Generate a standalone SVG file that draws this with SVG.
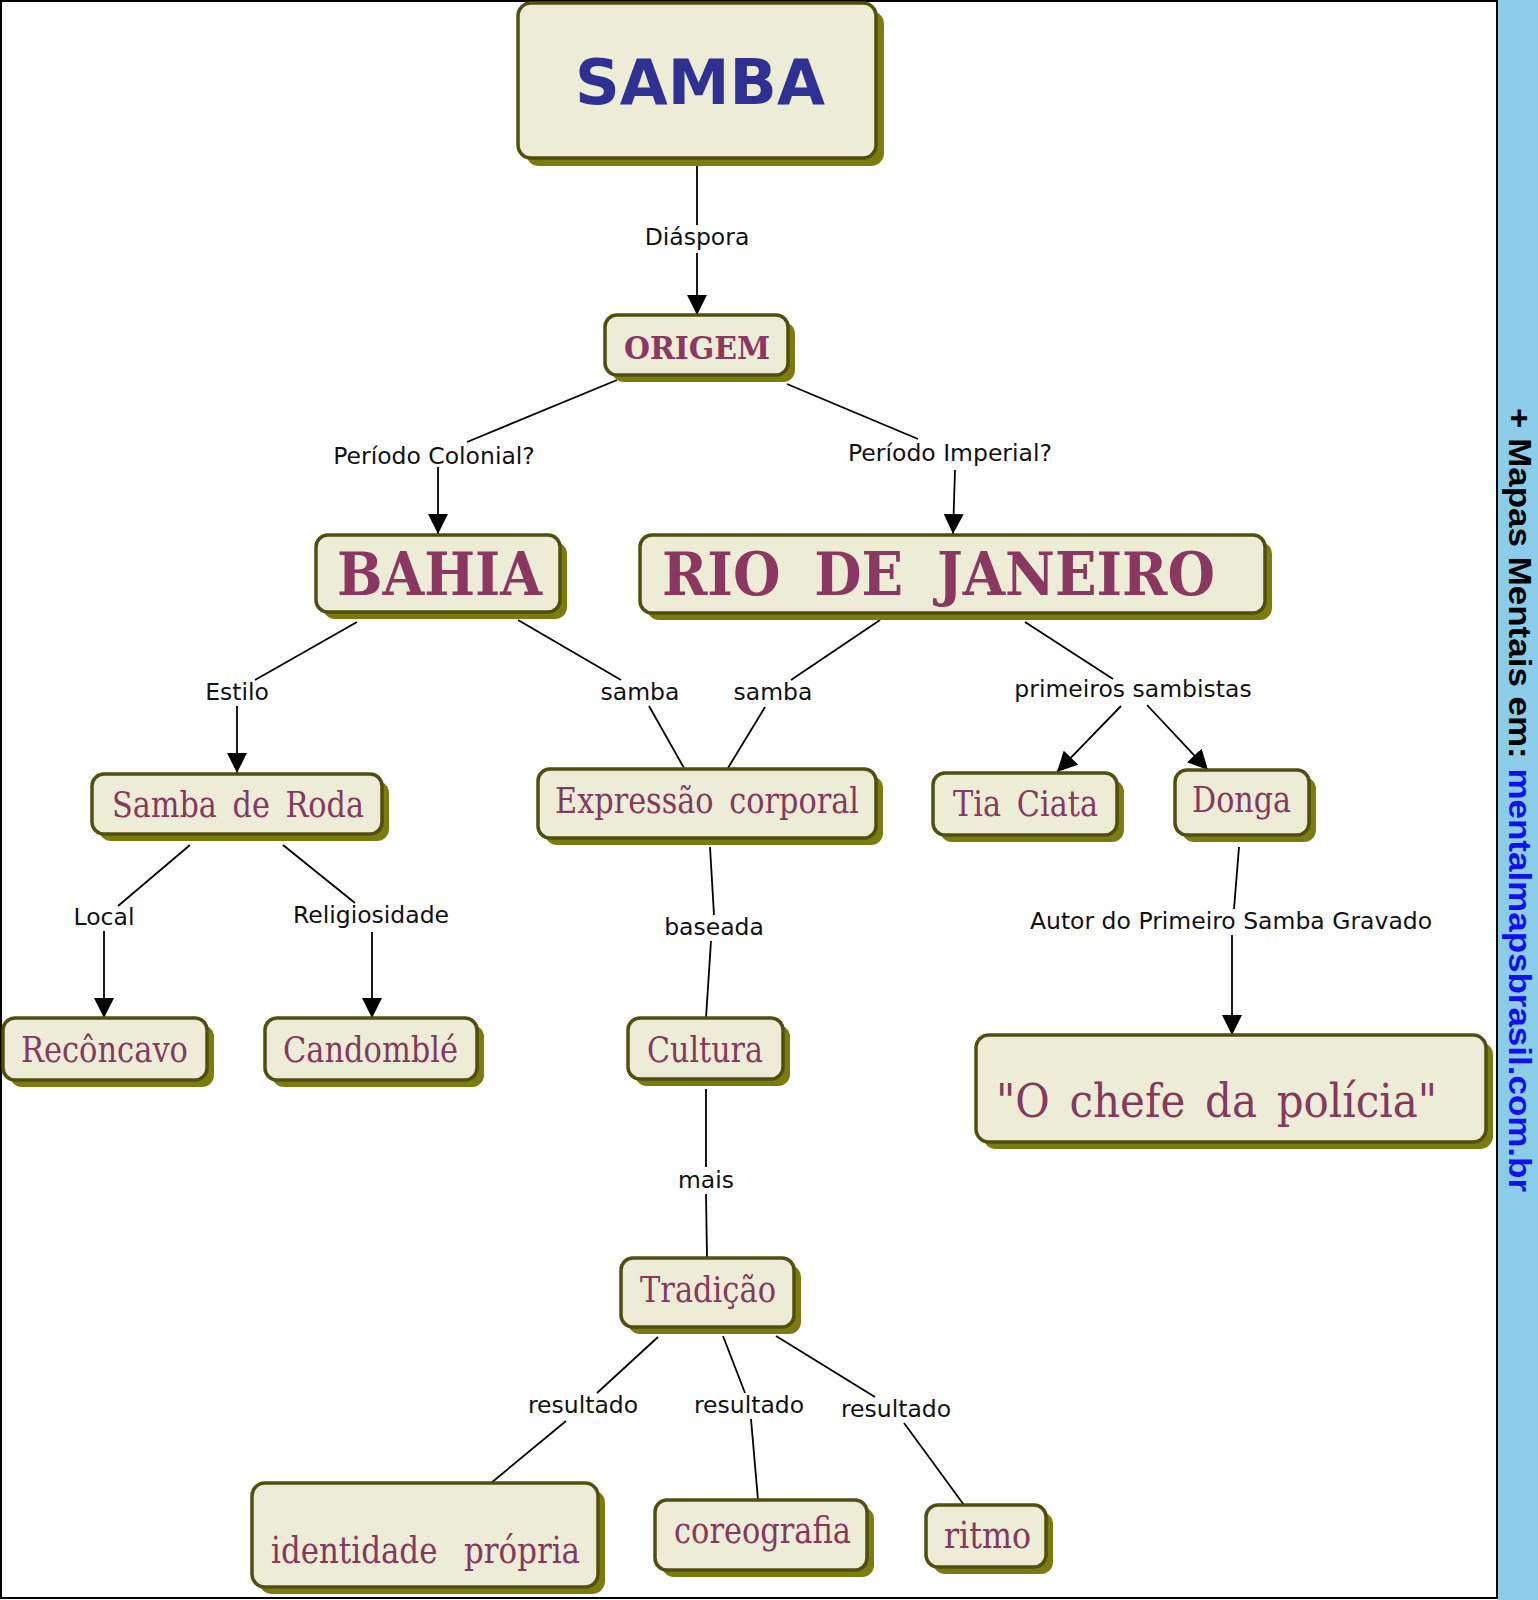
<svg xmlns="http://www.w3.org/2000/svg" width="1538" height="1600" viewBox="0 0 1538 1600">
<style>
.sh{fill:#7b7b0e;}
.bx{fill:#edecd6;stroke:#4f4f12;stroke-width:3.5;}
.t{font-family:"DejaVu Serif","Liberation Serif",serif;fill:#84395f;text-anchor:start;}
.tb{font-family:"DejaVu Serif","Liberation Serif",serif;fill:#8a3862;font-weight:bold;text-anchor:start;}
.lb{font-family:"DejaVu Sans","Liberation Sans",sans-serif;font-size:23.5px;fill:#111;text-anchor:middle;}
.ln{stroke:#000;stroke-width:1.8;fill:none;}
.ar{stroke:#000;stroke-width:1.8;fill:none;marker-end:url(#ah);}
</style>
<defs>
<marker id="ah" markerUnits="userSpaceOnUse" markerWidth="20" markerHeight="20" refX="20" refY="10" orient="auto">
<path d="M0,0 L20,10 L0,20 Z" fill="#000"/>
</marker>
</defs>
<rect x="0" y="0" width="1538" height="1600" fill="#fff"/>
<rect x="1" y="1" width="1496" height="1597" fill="#fff" stroke="#000" stroke-width="2"/>
<rect x="1498" y="0" width="40" height="1600" fill="#8bcde9"/>
<text transform="translate(1509,408) rotate(90)" font-family="'Liberation Sans',Arial,sans-serif" font-weight="bold" font-size="32" textLength="784" lengthAdjust="spacingAndGlyphs"><tspan fill="#000">+ Mapas Mentais em: </tspan><tspan fill="#1010f0">mentalmapsbrasil.com.br</tspan></text>

<g id="connectors">
<line class="ln" x1="697" y1="160" x2="697" y2="225"/>
<line class="ar" x1="697" y1="253" x2="697" y2="315"/>
<text class="lb" x="697" y="245">Diáspora</text>

<line class="ln" x1="617" y1="380" x2="467" y2="442"/>
<line class="ar" x1="438" y1="467" x2="438" y2="534"/>
<text class="lb" x="434" y="464">Período Colonial?</text>

<line class="ln" x1="787" y1="384" x2="918" y2="439"/>
<line class="ar" x1="955" y1="470" x2="953" y2="534"/>
<text class="lb" x="950" y="461">Período Imperial?</text>

<line class="ln" x1="357" y1="622" x2="255" y2="680"/>
<line class="ar" x1="237" y1="706" x2="237" y2="773"/>
<text class="lb" x="237" y="700">Estilo</text>

<line class="ln" x1="518" y1="620" x2="621" y2="680"/>
<line class="ln" x1="649" y1="706" x2="684" y2="768"/>
<text class="lb" x="640" y="700">samba</text>

<line class="ln" x1="880" y1="620" x2="791" y2="680"/>
<line class="ln" x1="765" y1="707" x2="728" y2="768"/>
<text class="lb" x="773" y="700">samba</text>

<line class="ln" x1="1025" y1="622" x2="1113" y2="679"/>
<line class="ar" x1="1121" y1="706" x2="1057" y2="772"/>
<line class="ar" x1="1147" y1="705" x2="1208" y2="770"/>
<text class="lb" x="1133" y="697">primeiros sambistas</text>

<line class="ln" x1="190" y1="845" x2="118" y2="906"/>
<line class="ar" x1="104" y1="931" x2="104" y2="1018"/>
<text class="lb" x="104" y="925">Local</text>

<line class="ln" x1="283" y1="845" x2="355" y2="903"/>
<line class="ar" x1="372" y1="932" x2="372" y2="1018"/>
<text class="lb" x="371" y="923">Religiosidade</text>

<line class="ln" x1="710" y1="847" x2="714" y2="915"/>
<line class="ln" x1="711" y1="941" x2="706" y2="1018"/>
<text class="lb" x="714" y="935">baseada</text>

<line class="ln" x1="706" y1="1089" x2="706" y2="1167"/>
<line class="ln" x1="706" y1="1194" x2="707" y2="1258"/>
<text class="lb" x="706" y="1188">mais</text>

<line class="ln" x1="1239" y1="847" x2="1234" y2="909"/>
<line class="ar" x1="1232" y1="935" x2="1232" y2="1035"/>
<text class="lb" x="1231" y="929">Autor do Primeiro Samba Gravado</text>

<line class="ln" x1="658" y1="1337" x2="597" y2="1393"/>
<line class="ln" x1="566" y1="1421" x2="491" y2="1483"/>
<text class="lb" x="583" y="1413">resultado</text>

<line class="ln" x1="723" y1="1336" x2="745" y2="1393"/>
<line class="ln" x1="751" y1="1419" x2="758" y2="1500"/>
<text class="lb" x="749" y="1413">resultado</text>

<line class="ln" x1="776" y1="1336" x2="875" y2="1397"/>
<line class="ln" x1="904" y1="1423" x2="964" y2="1505"/>
<text class="lb" x="896" y="1417">resultado</text>
</g>

<g id="samba">
<rect class="sh" x="526" y="11" width="358" height="155" rx="13"/>
<rect class="bx" x="518" y="3" width="358" height="155" rx="13"/>
<text x="575" y="104" font-family="'DejaVu Sans','Liberation Sans',sans-serif" font-weight="bold" font-size="63" fill="#2e3192" textLength="250" lengthAdjust="spacingAndGlyphs">SAMBA</text>
</g>
<g id="origem">
<rect class="sh" x="612" y="322" width="183" height="60" rx="12"/>
<rect class="bx" x="605" y="315" width="183" height="60" rx="12"/>
<text class="tb" x="624" y="359" style="font-size:32px" textLength="146" lengthAdjust="spacingAndGlyphs">ORIGEM</text>
</g>
<g id="bahia">
<rect class="sh" x="323" y="542" width="244" height="77" rx="12"/>
<rect class="bx" x="316" y="535" width="244" height="77" rx="12"/>
<text class="tb" x="337" y="595" style="font-size:59px" textLength="205" lengthAdjust="spacingAndGlyphs">BAHIA</text>
</g>
<g id="rio">
<rect class="sh" x="647" y="542" width="625" height="78" rx="12"/>
<rect class="bx" x="640" y="535" width="625" height="78" rx="12"/>
<text class="tb" x="662" y="595" style="font-size:59px;word-spacing:16px" textLength="553" lengthAdjust="spacingAndGlyphs">RIO DE JANEIRO</text>
</g>
<g id="samba-de-roda">
<rect class="sh" x="99" y="781" width="290" height="60" rx="12"/>
<rect class="bx" x="92" y="774" width="290" height="60" rx="12"/>
<text class="t" x="112" y="817" style="font-size:35px;word-spacing:7px" textLength="252" lengthAdjust="spacingAndGlyphs">Samba de Roda</text>
</g>
<g id="expressao">
<rect class="sh" x="545" y="776" width="338" height="69" rx="12"/>
<rect class="bx" x="538" y="769" width="338" height="69" rx="12"/>
<text class="t" x="555" y="813" style="font-size:35px;word-spacing:7px" textLength="304" lengthAdjust="spacingAndGlyphs">Expressão corporal</text>
</g>
<g id="tia-ciata">
<rect class="sh" x="940" y="780" width="184" height="62" rx="12"/>
<rect class="bx" x="933" y="773" width="184" height="62" rx="12"/>
<text class="t" x="953" y="816" style="font-size:35px;word-spacing:7px" textLength="145" lengthAdjust="spacingAndGlyphs">Tia Ciata</text>
</g>
<g id="donga">
<rect class="sh" x="1182" y="777" width="134" height="65" rx="12"/>
<rect class="bx" x="1175" y="770" width="134" height="65" rx="12"/>
<text class="t" x="1192" y="812" style="font-size:35px" textLength="99" lengthAdjust="spacingAndGlyphs">Donga</text>
</g>
<g id="reconcavo">
<rect class="sh" x="10" y="1025" width="204" height="62" rx="12"/>
<rect class="bx" x="3" y="1018" width="204" height="62" rx="12"/>
<text class="t" x="21" y="1062" style="font-size:35px" textLength="167" lengthAdjust="spacingAndGlyphs">Recôncavo</text>
</g>
<g id="candomble">
<rect class="sh" x="272" y="1025" width="212" height="62" rx="12"/>
<rect class="bx" x="265" y="1018" width="212" height="62" rx="12"/>
<text class="t" x="283" y="1062" style="font-size:35px" textLength="175" lengthAdjust="spacingAndGlyphs">Candomblé</text>
</g>
<g id="cultura">
<rect class="sh" x="635" y="1025" width="155" height="61" rx="12"/>
<rect class="bx" x="628" y="1018" width="155" height="61" rx="12"/>
<text class="t" x="647" y="1062" style="font-size:35px" textLength="116" lengthAdjust="spacingAndGlyphs">Cultura</text>
</g>
<g id="chefe">
<rect class="sh" x="983" y="1042" width="510" height="107" rx="13"/>
<rect class="bx" x="976" y="1035" width="510" height="107" rx="13"/>
<text class="t" x="996" y="1117" style="font-size:46px;word-spacing:7px" textLength="441" lengthAdjust="spacingAndGlyphs">"O chefe da polícia"</text>
</g>
<g id="tradicao">
<rect class="sh" x="628" y="1265" width="173" height="69" rx="12"/>
<rect class="bx" x="621" y="1258" width="173" height="69" rx="12"/>
<text class="t" x="640" y="1302" style="font-size:35px" textLength="136" lengthAdjust="spacingAndGlyphs">Tradição</text>
</g>
<g id="identidade">
<rect class="sh" x="259" y="1490" width="346" height="104" rx="13"/>
<rect class="bx" x="252" y="1483" width="346" height="104" rx="13"/>
<text class="t" x="271" y="1563" style="font-size:37px;word-spacing:20px" textLength="309" lengthAdjust="spacingAndGlyphs">identidade própria</text>
</g>
<g id="coreografia">
<rect class="sh" x="662" y="1507" width="212" height="70" rx="12"/>
<rect class="bx" x="655" y="1500" width="212" height="70" rx="12"/>
<text class="t" x="674" y="1543" style="font-size:37px" textLength="177" lengthAdjust="spacingAndGlyphs">coreografia</text>
</g>
<g id="ritmo">
<rect class="sh" x="933" y="1512" width="120" height="62" rx="12"/>
<rect class="bx" x="926" y="1505" width="120" height="62" rx="12"/>
<text class="t" x="944" y="1548" style="font-size:37px" textLength="87" lengthAdjust="spacingAndGlyphs">ritmo</text>
</g>
</svg>
